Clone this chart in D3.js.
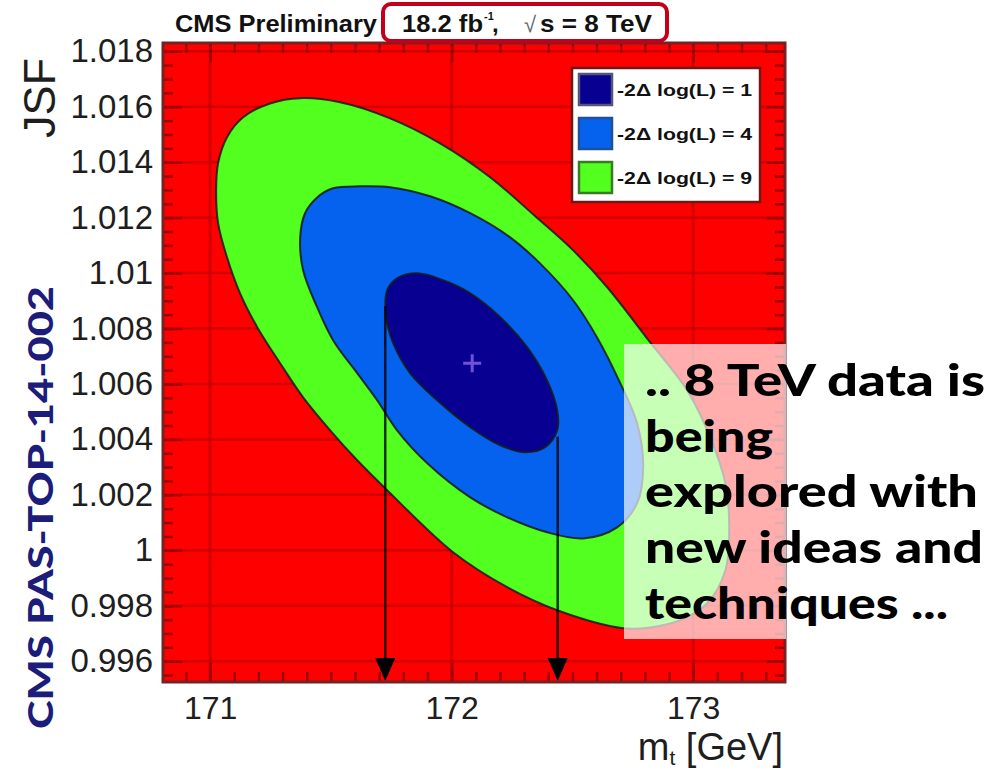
<!DOCTYPE html>
<html>
<head>
<meta charset="utf-8">
<script src="https://cdn.jsdelivr.net/npm/d3@7"></script>
<style>
  html, body { margin: 0; padding: 0; background: #fff; }
  svg { display: block; }
</style>
</head>
<body>
<svg id="chart" width="986" height="771"></svg>
<script>
// ---- Likelihood contours in the (m_t, JSF) plane: [m_t (GeV), JSF] ----
const contour9 = [
  [171.373, 1.01631], [171.538, 1.01616], [171.745, 1.01558], [171.952, 1.01468],
  [172.159, 1.01346], [172.346, 1.01205], [172.503, 1.01082], [172.644, 1.00949],
  [172.822, 1.00750], [172.975, 1.00577], [173.070, 1.00408], [173.133, 1.00242],
  [173.149, 1.00083], [173.133, 0.99928], [173.058, 0.99809], [172.946, 0.99748],
  [172.822, 0.99722], [172.710, 0.99719], [172.437, 0.99784], [172.230, 0.99867],
  [172.006, 0.99993], [171.733, 1.00217], [171.609, 1.00325], [171.497, 1.00433],
  [171.385, 1.00552], [171.290, 1.00675], [171.195, 1.00805], [171.124, 1.00927],
  [171.070, 1.01057], [171.033, 1.01180], [171.025, 1.01299], [171.033, 1.01396],
  [171.070, 1.01490], [171.137, 1.01562], [171.248, 1.01612]
];
const contour4 = [
  [171.621, 1.01313], [171.745, 1.01310], [171.911, 1.01277], [172.077, 1.01216],
  [172.242, 1.01129], [172.366, 1.01035], [172.503, 1.00902], [172.602, 1.00768],
  [172.698, 1.00603], [172.768, 1.00458], [172.793, 1.00300], [172.768, 1.00170],
  [172.685, 1.00083], [172.545, 1.00043], [172.395, 1.00065], [172.230, 1.00119],
  [172.077, 1.00191], [171.899, 1.00314], [171.774, 1.00433], [171.692, 1.00541],
  [171.609, 1.00639], [171.509, 1.00758], [171.443, 1.00877], [171.385, 1.01010],
  [171.373, 1.01129], [171.393, 1.01216], [171.443, 1.01273], [171.509, 1.01306]
];
const contour1 = [
  [171.857, 1.00999], [171.965, 1.00974], [172.077, 1.00927], [172.201, 1.00841],
  [172.313, 1.00732], [172.395, 1.00613], [172.437, 1.00505], [172.437, 1.00433],
  [172.387, 1.00372], [172.304, 1.00354], [172.201, 1.00379], [172.077, 1.00444],
  [171.940, 1.00541], [171.828, 1.00639], [171.758, 1.00747], [171.729, 1.00841],
  [171.733, 1.00938], [171.774, 1.00981]
];
const levelLabels = ["-2\u0394 log(L) = 1", "-2\u0394 log(L) = 4", "-2\u0394 log(L) = 9"];
const levelColors = ["#070090", "#0462ee", "#52ff1f"];
const levelEdge = ["#55557a", "#1d4f9a", "#3a7a25"];

// best-fit point and the 1-sigma m_t interval (arrows)
const bestFit = [172.085, 1.00675];
const intervalMt = [171.725, 172.439];
const intervalJsfTop = [1.0088, 1.0041];

// axis ticks
const mtTicks = [171, 172, 173];
const mtTickLabels = ["171", "172", "173"];
const jsfTicks = [0.996, 0.998, 1.000, 1.002, 1.004, 1.006, 1.008, 1.010, 1.012, 1.014, 1.016, 1.018];
const jsfTickLabels = ["0.996", "0.998", "1", "1.002", "1.004", "1.006", "1.008", "1.01", "1.012", "1.014", "1.016", "1.018"];
const mtMinor = d3.range(170.9, 173.35, 0.1);
const jsfMinor = d3.range(0.9955, 1.0182, 0.0005);

const annotationLines = [".. 8 TeV data is", "being", "explored with", "new ideas and", "techniques ..."];
const annotationWidths = [340, 128, 333, 338, 303];

// ---- layout ----
const svg = d3.select("#chart");
const plot = { left: 163, right: 785, top: 43, bottom: 682 };
const x = d3.scaleLinear().domain([170.805, 173.38]).range([plot.left, plot.right]);
const y = d3.scaleLinear().domain([0.99525, 1.0183]).range([plot.bottom, plot.top]);

svg.append("defs").append("clipPath").attr("id", "plotClip")
  .append("rect").attr("x", plot.left).attr("y", plot.top)
  .attr("width", plot.right - plot.left).attr("height", plot.bottom - plot.top);

const g = svg.append("g").attr("clip-path", "url(#plotClip)");

// background (outside all contours)
g.append("rect").attr("x", plot.left).attr("y", plot.top)
  .attr("width", plot.right - plot.left).attr("height", plot.bottom - plot.top)
  .attr("fill", "#ff0000");

// grid
g.append("g").selectAll("line").data(mtTicks).join("line")
  .attr("x1", d => x(d)).attr("x2", d => x(d))
  .attr("y1", plot.top).attr("y2", plot.bottom)
  .attr("stroke", "#c80000").attr("stroke-width", 3).attr("opacity", 0.8);
g.append("g").selectAll("line").data(jsfTicks).join("line")
  .attr("y1", d => y(d)).attr("y2", d => y(d))
  .attr("x1", plot.left).attr("x2", plot.right)
  .attr("stroke", "#c80000").attr("stroke-width", 2.5).attr("opacity", 0.8);

// contours, outermost first
const contourLine = d3.line()
  .x(d => x(d[0])).y(d => y(d[1]))
  .curve(d3.curveCatmullRomClosed.alpha(0.5));
[contour9, contour4, contour1].forEach((c, i) => {
  g.append("path").attr("d", contourLine(c))
    .attr("fill", levelColors[2 - i])
    .attr("stroke", "#1a1a1a").attr("stroke-opacity", 0.85).attr("stroke-width", 2);
});

// best-fit marker
const cx = x(bestFit[0]), cy = y(bestFit[1]);
g.append("path").attr("d", `M${cx - 9},${cy}H${cx + 9}M${cx},${cy - 9}V${cy + 9}`)
  .attr("stroke", "#6f52d6").attr("stroke-width", 3);

// interval arrows
intervalMt.forEach((m, i) => {
  const ax = x(m);
  g.append("line").attr("x1", ax).attr("x2", ax)
    .attr("y1", y(intervalJsfTop[i])).attr("y2", plot.bottom - 4)
    .attr("stroke", "#000").attr("stroke-opacity", 0.8).attr("stroke-width", 2.5);
  g.append("path")
    .attr("d", `M${ax - 10},${plot.bottom - 24}L${ax + 10},${plot.bottom - 24}L${ax},${plot.bottom - 1}Z`)
    .attr("fill", "#000");
});

// axes: inward ticks on all four sides
function styleAxis(sel) {
  sel.select(".domain").remove();
  sel.selectAll(".tick line").attr("stroke", "#a00000").attr("stroke-width", 2.5);
  sel.selectAll(".tick text")
    .attr("font-family", "'Liberation Sans', Arial, sans-serif")
    .attr("font-size", 32).attr("fill", "#1e1e1e");
}
const axisLayer = svg.append("g");
axisLayer.append("g").attr("transform", `translate(${plot.left},0)`)
  .call(d3.axisLeft(y).tickValues(jsfMinor).tickSize(-10).tickFormat("")).call(styleAxis);
axisLayer.append("g").attr("transform", `translate(${plot.right},0)`)
  .call(d3.axisRight(y).tickValues(jsfMinor).tickSize(-10).tickFormat("")).call(styleAxis);
axisLayer.append("g").attr("transform", `translate(0,${plot.bottom})`)
  .call(d3.axisBottom(x).tickValues(mtMinor).tickSize(-10).tickFormat("")).call(styleAxis);
axisLayer.append("g").attr("transform", `translate(0,${plot.top})`)
  .call(d3.axisTop(x).tickValues(mtMinor).tickSize(-10).tickFormat("")).call(styleAxis);

axisLayer.append("g").attr("transform", `translate(${plot.left},0)`)
  .call(d3.axisLeft(y).tickValues(jsfTicks).tickSize(-19).tickPadding(10)
    .tickFormat((d, i) => jsfTickLabels[i])).call(styleAxis)
  .selectAll(".tick text").attr("font-size", 33);
axisLayer.append("g").attr("transform", `translate(${plot.right},0)`)
  .call(d3.axisRight(y).tickValues(jsfTicks).tickSize(-19).tickFormat("")).call(styleAxis);
axisLayer.append("g").attr("transform", `translate(0,${plot.bottom})`)
  .call(d3.axisBottom(x).tickValues(mtTicks).tickSize(-19).tickPadding(14)
    .tickFormat((d, i) => mtTickLabels[i])).call(styleAxis);
axisLayer.append("g").attr("transform", `translate(0,${plot.top})`)
  .call(d3.axisTop(x).tickValues(mtTicks).tickSize(-19).tickFormat("")).call(styleAxis);

// frame
svg.append("rect").attr("x", plot.left).attr("y", plot.top)
  .attr("width", plot.right - plot.left).attr("height", plot.bottom - plot.top)
  .attr("fill", "none").attr("stroke", "#772222").attr("stroke-width", 3);

// legend
const leg = svg.append("g");
leg.append("rect").attr("x", 572).attr("y", 68).attr("width", 188).attr("height", 134)
  .attr("fill", "#fff").attr("stroke", "#701818").attr("stroke-width", 2.5);
levelLabels.forEach((lab, i) => {
  const ry = 74 + i * 44;
  leg.append("rect").attr("x", 579).attr("y", ry).attr("width", 33).attr("height", 31)
    .attr("fill", levelColors[i]).attr("stroke", levelEdge[i]).attr("stroke-width", 2.5);
  leg.append("text").attr("x", 617).attr("y", ry + 22)
    .attr("font-family", "'Liberation Sans', Arial, sans-serif").attr("font-weight", "bold")
    .attr("font-size", 17).attr("fill", "#111")
    .attr("textLength", 135).attr("lengthAdjust", "spacingAndGlyphs")
    .text(lab);
});

// header
svg.append("text").attr("x", 175).attr("y", 32)
  .attr("font-family", "'Liberation Sans', Arial, sans-serif").attr("font-weight", "bold")
  .attr("font-size", 23).attr("fill", "#111")
  .attr("textLength", 202).attr("lengthAdjust", "spacingAndGlyphs")
  .text("CMS Preliminary");
svg.append("rect").attr("x", 383).attr("y", 4).attr("width", 284).attr("height", 37).attr("rx", 8)
  .attr("fill", "#fff").attr("stroke", "#c2001c").attr("stroke-width", 4);
const hdr = svg.append("g").attr("font-family", "'Liberation Sans', Arial, sans-serif")
  .attr("font-weight", "bold").attr("fill", "#111");
hdr.append("text").attr("x", 402).attr("y", 32).attr("font-size", 24)
  .attr("textLength", 81).attr("lengthAdjust", "spacingAndGlyphs").text("18.2 fb");
hdr.append("text").attr("x", 484).attr("y", 20).attr("font-size", 11).text("-1");
hdr.append("text").attr("x", 492).attr("y", 32).attr("font-size", 24).text(",");
hdr.append("text").attr("x", 524).attr("y", 32).attr("font-size", 22)
  .attr("font-weight", "normal").attr("fill", "#666").text("\u221A");
hdr.append("text").attr("x", 540).attr("y", 32).attr("font-size", 24)
  .attr("textLength", 112).attr("lengthAdjust", "spacingAndGlyphs").text("s = 8 TeV");

// axis titles
svg.append("text").attr("transform", "translate(55,58) rotate(-90)")
  .attr("text-anchor", "end")
  .attr("font-family", "'Liberation Sans', Arial, sans-serif")
  .attr("font-size", 44).attr("fill", "#1e1e1e")
  .attr("textLength", 80).attr("lengthAdjust", "spacingAndGlyphs").text("JSF");
const xt = svg.append("text").attr("x", 783).attr("y", 760).attr("text-anchor", "end")
  .attr("font-family", "'Liberation Sans', Arial, sans-serif")
  .attr("font-size", 38).attr("fill", "#1e1e1e");
xt.append("tspan").text("m");
xt.append("tspan").attr("font-size", 21).attr("dy", 5).text("t");
xt.append("tspan").attr("dy", -5).text(" [GeV]");

// document reference along the left edge
svg.append("text").attr("transform", "translate(53,729) rotate(-90)")
  .attr("font-family", "Lato, 'Open Sans', sans-serif").attr("font-weight", 900)
  .attr("font-size", 34).attr("fill", "#1c1c7a")
  .attr("textLength", 443).attr("lengthAdjust", "spacingAndGlyphs")
  .text("CMS PAS-TOP-14-002");

// annotation panel
svg.append("rect").attr("x", 624).attr("y", 344).attr("width", 162).attr("height", 295)
  .attr("fill", "#fff").attr("opacity", 0.68);
const ann = svg.append("g").attr("font-family", "Lato, 'Open Sans', sans-serif")
  .attr("font-weight", 900).attr("font-size", 44).attr("fill", "#000");
annotationLines.forEach((t, i) => {
  ann.append("text").attr("x", 645).attr("y", 396 + i * 55.7)
    .attr("textLength", annotationWidths[i]).attr("lengthAdjust", "spacingAndGlyphs")
    .text(t);
});
</script>
</body>
</html>
